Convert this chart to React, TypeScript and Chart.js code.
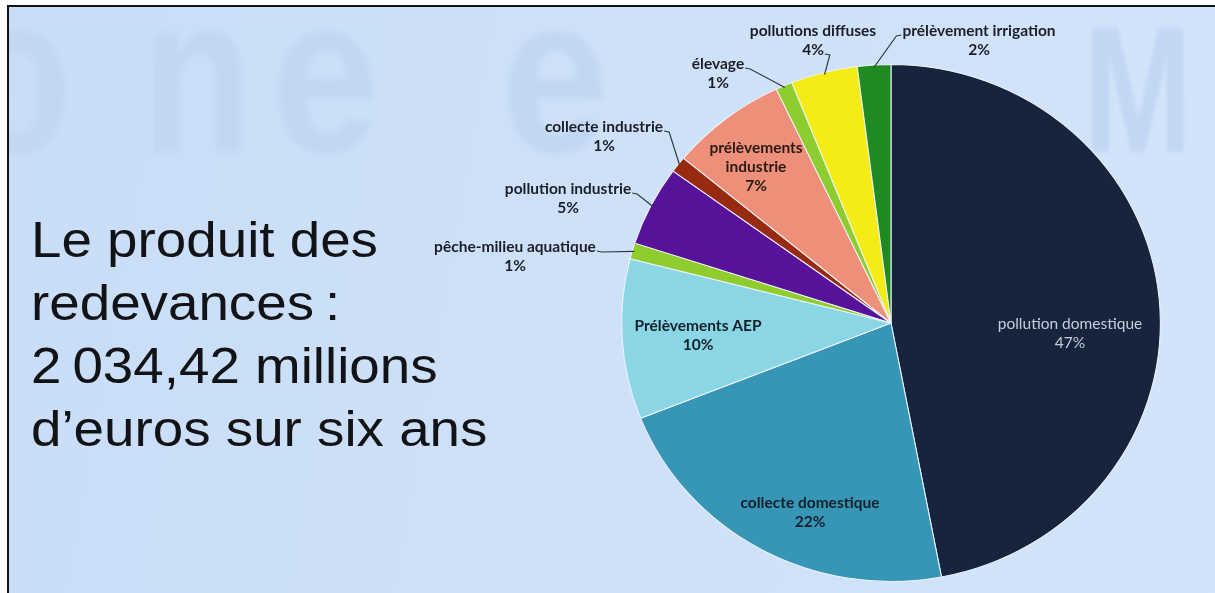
import React, { useEffect, useRef } from "react";
import { Chart, registerables } from "chart.js";

Chart.register(...registerables);

// ---------- data ----------
const categories = [
  "pollution domestique",
  "collecte domestique",
  "Prélèvements AEP",
  "pêche-milieu aquatique",
  "pollution industrie",
  "collecte industrie",
  "prélèvements industrie",
  "élevage",
  "pollutions diffuses",
  "prélèvement irrigation",
];
const shares = [47, 22, 10, 1, 5, 1, 7, 1, 4, 2];
const percentLabels = ["47%", "22%", "10%", "1%", "5%", "1%", "7%", "1%", "4%", "2%"];
const titleLines = [
  "Le produit des",
  "redevances\u202F:",
  "2\u2009034,42 millions",
  "d\u2019euros sur six ans",
];

// ---------- styles ----------
const sliceColors = [
  "#17243d",
  "#3796b6",
  "#8ad6e4",
  "#8fcd2f",
  "#58129a",
  "#992a12",
  "#ee8f79",
  "#8ecd30",
  "#f5ec16",
  "#1f8a22",
];

type LabelLayout = {
  mode: "inside" | "outside";
  dx: number;
  dy: number;
  color: string;
  bold: boolean;
  wrap?: boolean;
  side?: "left" | "right";
  anchorLine?: number;
};

const labelLayout: LabelLayout[] = [
  { mode: "inside", dx: 179, dy: 1, color: "#c9cdd8", bold: false },
  { mode: "inside", dx: -81, dy: 180, color: "#14202a", bold: true },
  { mode: "inside", dx: -193, dy: 3, color: "#14202a", bold: true },
  { mode: "outside", dx: -376, dy: -76, color: "#1a1f28", bold: true, side: "right", anchorLine: 0 },
  { mode: "outside", dx: -323, dy: -134, color: "#1a1f28", bold: true, side: "right", anchorLine: 0 },
  { mode: "outside", dx: -287, dy: -196, color: "#1a1f28", bold: true, side: "right", anchorLine: 0 },
  { mode: "inside", dx: -135, dy: -175, color: "#2a1a16", bold: true, wrap: true },
  { mode: "outside", dx: -173, dy: -259, color: "#1a1f28", bold: true, side: "right", anchorLine: 0 },
  { mode: "outside", dx: -78, dy: -292, color: "#1a1f28", bold: true, side: "right", anchorLine: 1 },
  { mode: "outside", dx: 88, dy: -292, color: "#1a1f28", bold: true, side: "left", anchorLine: 0 },
];

const ELLIPSE_SX = 1.042;
const LABEL_FONT = "Lato, 'Open Sans', sans-serif";
const LABEL_SIZE = 15.5;
const LINE_GAP = 19;

// faint show-through letters of the photographed page
const watermark = [
  { ch: "o", left: -40, top: -40, size: 225, sx: 0.8 },
  { ch: "n", left: 140, top: -40, size: 225, sx: 0.8 },
  { ch: "e", left: 270, top: -40, size: 225, sx: 0.85 },
  { ch: "e", left: 500, top: -40, size: 225, sx: 0.85 },
  { ch: "M", left: 1082, top: -2, size: 180, sx: 0.72 },
];

const ellipsePlugin = {
  id: "ellipse",
  beforeDatasetsDraw(chart: any) {
    const arc = chart.getDatasetMeta(0).data[0];
    if (!arc) return;
    const ctx = chart.ctx;
    ctx.save();
    ctx.translate(arc.x, arc.y);
    ctx.scale(ELLIPSE_SX, 1);
    ctx.translate(-arc.x, -arc.y);
  },
  afterDatasetsDraw(chart: any) {
    if (!chart.getDatasetMeta(0).data[0]) return;
    chart.ctx.restore();
  },
};

const labelPlugin = {
  id: "sliceLabels",
  afterDraw(chart: any) {
    const ctx: CanvasRenderingContext2D = chart.ctx;
    const arcs = chart.getDatasetMeta(0).data;
    ctx.save();
    ctx.textAlign = "center";
    ctx.textBaseline = "middle";
    arcs.forEach((arc: any, i: number) => {
      const lay = labelLayout[i];
      const cx = arc.x;
      const cy = arc.y;
      const lines = lay.wrap
        ? [...categories[i].split(" "), percentLabels[i]]
        : [categories[i], percentLabels[i]];
      ctx.font = `${lay.bold ? "bold " : ""}${LABEL_SIZE}px ${LABEL_FONT}`;
      ctx.fillStyle = lay.color;
      const tx = cx + lay.dx;
      const ty = cy + lay.dy;
      lines.forEach((ln, k) => ctx.fillText(ln, tx, ty + k * LINE_GAP));
      if (lay.mode === "outside") {
        const li = lay.anchorLine ?? 0;
        const w = ctx.measureText(lines[li]).width;
        const ly = ty + li * LINE_GAP + 4;
        const sx = lay.side === "left" ? tx - w / 2 - 1 : tx + w / 2 + 1;
        const tick = lay.side === "left" ? -5 : 5;
        const mid = (arc.startAngle + arc.endAngle) / 2;
        const r = arc.outerRadius - 2;
        const ex = cx + Math.cos(mid) * r * ELLIPSE_SX;
        const ey = cy + Math.sin(mid) * r;
        ctx.beginPath();
        ctx.strokeStyle = "#333840";
        ctx.lineWidth = 1.2;
        ctx.moveTo(sx, ly);
        ctx.lineTo(sx + tick, ly + 1);
        ctx.lineTo(ex, ey);
        ctx.stroke();
      }
    });
    ctx.restore();
  },
};

export default function App() {
  const canvasRef = useRef<HTMLCanvasElement | null>(null);

  useEffect(() => {
    const canvas = canvasRef.current;
    if (!canvas) return;
    const chart = new Chart(canvas, {
      type: "pie",
      data: {
        labels: categories,
        datasets: [
          {
            data: shares,
            backgroundColor: sliceColors,
            borderColor: "#eef3fa",
            borderWidth: 1,
          },
        ],
      },
      options: {
        responsive: false,
        animation: false,
        devicePixelRatio: 1,
        layout: { padding: { left: 632, right: 65, top: 64, bottom: 11 } },
        plugins: {
          legend: { display: false },
          tooltip: { enabled: false },
        },
      },
      plugins: [ellipsePlugin, labelPlugin],
    } as any);
    return () => chart.destroy();
  }, []);

  return (
    <div
      style={{
        position: "fixed",
        left: 0,
        top: 0,
        width: 1215,
        height: 593,
        background: "#ffffff",
        overflow: "hidden",
      }}
    >
      <div
        style={{
          position: "absolute",
          left: 7,
          top: 5,
          right: 0,
          bottom: 0,
          borderTop: "2px solid #111",
          borderLeft: "2px solid #111",
          background: "linear-gradient(100deg, #c9ddf7 0%, #cee1f8 50%, #d3e4fa 100%)",
          overflow: "hidden",
        }}
      >
        {watermark.map((w, i) => (
          <div
            key={i}
            aria-hidden="true"
            style={{
              position: "absolute",
              left: w.left - 7,
              top: w.top - 5,
              fontFamily: "'Liberation Sans', Arial, sans-serif",
              fontWeight: "bold",
              fontSize: w.size,
              lineHeight: 1,
              color: "#c2d7f4",
              filter: "blur(2.5px)",
              transform: `scaleX(${w.sx})`,
              transformOrigin: "left top",
              userSelect: "none",
            }}
          >
            {w.ch}
          </div>
        ))}
      </div>
      <div
        style={{
          position: "absolute",
          left: 31,
          top: 209,
          fontFamily: "'Liberation Sans', Arial, sans-serif",
          fontSize: 50,
          lineHeight: "63px",
          color: "#121316",
          whiteSpace: "nowrap",
          transform: "scaleX(1.095)",
          transformOrigin: "left top",
        }}
      >
        {titleLines.map((t, i) => (
          <div key={i}>{t}</div>
        ))}
      </div>
      <canvas
        ref={canvasRef}
        width={1215}
        height={593}
        style={{ position: "absolute", left: 0, top: 0, width: 1215, height: 593 }}
      />
    </div>
  );
}
